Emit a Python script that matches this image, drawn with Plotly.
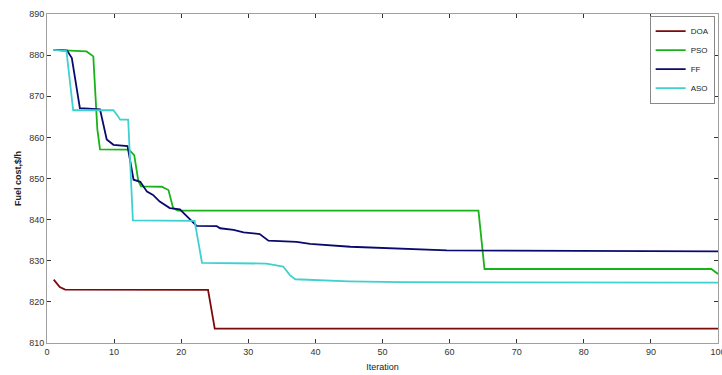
import plotly.graph_objects as go

# ---- data ----
doa_x = [1, 1.9, 2.7, 24.0, 25.0, 100]
doa_y = [825.4, 823.6, 823.0, 822.9, 813.5, 813.5]

pso_x = [1, 5.9, 6.9, 7.5, 7.9, 12.2, 13.0, 13.6, 14.0, 17.1, 18.1, 18.8, 19.5, 64.3, 65.2, 99.0, 100]
pso_y = [881.3, 880.9, 879.7, 862.0, 857.1, 857.0, 855.7, 849.5, 848.1, 848.0, 847.2, 842.8, 842.2, 842.2, 828.0, 828.0, 826.8]

ff_x = [1, 3.0, 3.7, 4.9, 7.9, 8.9, 9.9, 12.0, 12.9, 13.9, 14.9, 15.8, 16.8, 18.3, 19.8, 21.3, 22.3,
        25.3, 25.8, 27.8, 29.3, 31.7, 33.0, 37.2, 39.2, 45.2, 52.6, 59.6, 100]
ff_y = [881.3, 881.1, 879.3, 867.1, 866.8, 859.5, 858.2, 857.9, 849.7, 849.2, 846.8, 846.0, 844.4,
        842.8, 842.5, 840.0, 838.5, 838.4, 837.9, 837.5, 836.9, 836.5, 834.9, 834.6, 834.1, 833.4,
        832.9, 832.5, 832.3]

aso_x = [1, 2.9, 3.9, 9.9, 10.6, 10.9, 12.1, 12.8, 22.0, 23.1, 32.7, 35.2, 36.2, 37.0, 45.0, 52.6, 100]
aso_y = [881.3, 881.0, 866.6, 866.6, 865.1, 864.3, 864.3, 839.8, 839.7, 829.5, 829.3, 828.6, 826.5,
         825.5, 825.0, 824.8, 824.7]

x_ticks = [0, 10, 20, 30, 40, 50, 60, 70, 80, 90, 100]
y_ticks = [810, 820, 830, 840, 850, 860, 870, 880, 890]

series = [
    ("DOA", doa_x, doa_y, "#7d0a0a"),
    ("PSO", pso_x, pso_y, "#19b319"),
    ("FF", ff_x, ff_y, "#0a0a6e"),
    ("ASO", aso_x, aso_y, "#3fd0d0"),
]

fig = go.Figure()
for name, xs, ys, col in series:
    fig.add_trace(go.Scatter(x=xs, y=ys, mode="lines", name=name,
                             line=dict(color=col, width=1.8)))

axis_common = dict(
    showgrid=False, zeroline=False, showline=True, linecolor="#a0a0a0", linewidth=1,
    mirror="ticks", ticks="inside", ticklen=4, tickcolor="#333", tickwidth=1,
    tickfont=dict(family="Liberation Sans, Arial", size=9, color="#333"),
    automargin=False, ticklabeloverflow="allow",
)

fig.update_layout(
    width=722, height=375,
    margin=dict(l=47, r=4, t=14, b=32),
    paper_bgcolor="white", plot_bgcolor="white",
    xaxis=dict(range=[0, 100], tickvals=x_ticks,
               title=dict(text="Iteration", standoff=7,
                          font=dict(family="Liberation Sans, Arial", size=9, color="#222")),
               **axis_common),
    yaxis=dict(range=[810, 890], tickvals=y_ticks,
               title=dict(text="<b>Fuel cost,$/h</b>", standoff=6,
                          font=dict(family="Liberation Sans, Arial", size=9, color="#222")),
               **axis_common),
    legend=dict(x=0.995, y=0.995, xanchor="right", yanchor="top",
                bgcolor="white", bordercolor="#888", borderwidth=1,
                font=dict(family="Liberation Sans, Arial", size=8, color="#222"),
                tracegroupgap=0, itemwidth=30),
    showlegend=True,
)

fig.write_html("out.html")
